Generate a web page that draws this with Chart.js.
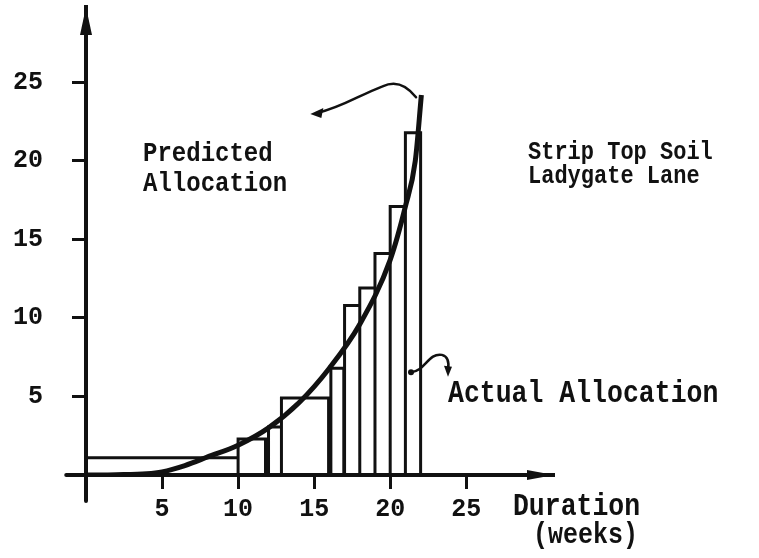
<!DOCTYPE html>
<html>
<head>
<meta charset="utf-8">
<title>Strip Top Soil - Ladygate Lane</title>
<script src="https://cdn.jsdelivr.net/npm/chart.js@4.4.0/dist/chart.umd.min.js"></script>
<style>
    html, body { margin: 0; padding: 0; background: #fff; }
    #wrap { width: 759px; height: 558px; }
</style>
</head>
<body>
<div id="wrap"><canvas id="allocChart" width="759" height="558"></canvas></div>
<script>
// Actual allocation: one bar per period (weeks), heights
var barStart = [0, 10, 12, 12.85, 16.1, 17, 18, 19, 20, 21];
var barEnd = [10, 11.8, 12.85, 15.95, 16.95, 18, 19, 20, 21, 22];
var barHeight = [1.1, 2.3, 3.05, 4.9, 6.8, 10.8, 11.9, 14.1, 17.1, 21.8];

// Predicted allocation curve
var curveWeeks = [0, 2, 4, 5, 6.5, 8, 10, 12, 14, 16, 18, 20, 21, 21.65, 22.05];
var curveValues = [0, 0.02, 0.08, 0.2, 0.6, 1.15, 1.9, 3.0, 4.6, 6.8, 9.6, 13.7, 17.1, 20.0, 24.2];

// tick labels
var xTicks = [5, 10, 15, 20, 25];
var yTicks = [5, 10, 15, 20, 25];

var ink = "#111";
var mono = "'Liberation Mono', 'Courier New', monospace";

// outline of every bar, walked along the axis
var barOutline = [];
for (var i = 0; i < barHeight.length; i++) {
    barOutline.push({x: barStart[i], y: 0});
    barOutline.push({x: barStart[i], y: barHeight[i]});
    barOutline.push({x: barEnd[i], y: barHeight[i]});
    barOutline.push({x: barEnd[i], y: 0});
}

var curvePoints = curveWeeks.map(function (w, i) {
    return {x: w, y: curveValues[i]};
});

// text and hand-drawn arrows, placed in data units
var notes = [
    {text: "Predicted", x: 3.75, y: 20.0, size: 24},
    {text: "Allocation", x: 3.75, y: 18.1, size: 24},
    {text: "Strip Top Soil", x: 29.06, y: 20.15, size: 22},
    {text: "Ladygate Lane", x: 29.06, y: 18.57, size: 22},
    {text: "Actual Allocation", x: 23.8, y: 4.66, size: 26.5},
    {text: "Duration", x: 28.07, y: -2.54, size: 26.5},
    {text: "(weeks)", x: 29.39, y: -4.33, size: 25}
];

var decorations = {
    id: "decorations",
    afterDraw: function (chart) {
        var ctx = chart.ctx;
        var xs = chart.scales.x, ys = chart.scales.y;
        var area = chart.chartArea;
        function px(v) { return xs.getPixelForValue(v); }
        function py(v) { return ys.getPixelForValue(v); }

        ctx.save();
        ctx.strokeStyle = ink;
        ctx.fillStyle = ink;
        ctx.lineCap = "round";

        // axis stubs past the origin
        ctx.lineWidth = 4;
        ctx.beginPath();
        ctx.moveTo(px(0), py(0));
        ctx.lineTo(px(0), py(-1.65));
        ctx.moveTo(px(-1.3), py(0));
        ctx.lineTo(px(0), py(0));
        ctx.stroke();

        // arrow heads on the axes
        var ox = px(0), oy = py(0);
        ctx.beginPath();
        ctx.moveTo(ox, area.top);
        ctx.lineTo(ox - 6, area.top + 28);
        ctx.lineTo(ox + 6, area.top + 28);
        ctx.closePath();
        ctx.fill();
        ctx.beginPath();
        ctx.moveTo(area.right, oy);
        ctx.lineTo(area.right - 27, oy - 5);
        ctx.lineTo(area.right - 27, oy + 5);
        ctx.closePath();
        ctx.fill();

        // curly arrow from the curve to "Predicted Allocation"
        ctx.lineWidth = 2.5;
        ctx.beginPath();
        ctx.moveTo(px(21.7), py(24.05));
        ctx.quadraticCurveTo(px(20.7), py(25.3), px(19.5), py(24.75));
        ctx.bezierCurveTo(px(18.0), py(24.2), px(16.8), py(23.4), px(15.2), py(23.05));
        ctx.stroke();
        var tx = px(14.75), tyy = py(22.98);
        ctx.beginPath();
        ctx.moveTo(tx, tyy);
        ctx.lineTo(tx + 13, tyy - 6);
        ctx.lineTo(tx + 11, tyy + 4);
        ctx.closePath();
        ctx.fill();

        // curly arrow from the bars to "Actual Allocation"
        ctx.beginPath();
        ctx.arc(px(21.37), py(6.55), 3, 0, Math.PI * 2);
        ctx.fill();
        ctx.beginPath();
        ctx.moveTo(px(21.37), py(6.55));
        ctx.bezierCurveTo(px(22.3), py(6.6), px(22.5), py(7.8), px(23.4), py(7.65));
        ctx.quadraticCurveTo(px(23.95), py(7.5), px(23.8), py(6.7));
        ctx.stroke();
        var ax = px(23.8), ay = py(6.25);
        ctx.beginPath();
        ctx.moveTo(ax, ay);
        ctx.lineTo(ax - 4, ay - 11);
        ctx.lineTo(ax + 4, ay - 10);
        ctx.closePath();
        ctx.fill();

        // labels, stretched a little upward like the typewriter face
        ctx.textBaseline = "alphabetic";
        ctx.textAlign = "left";
        notes.forEach(function (n) {
            ctx.save();
            ctx.translate(px(n.x), py(n.y));
            ctx.scale(1, 1.18);
            ctx.font = "bold " + n.size + "px " + mono;
            ctx.fillText(n.text, 0, 0);
            ctx.restore();
        });
        ctx.restore();
    }
};

var tickFont = {family: mono, size: 25, weight: "bold"};

var ctx = document.getElementById("allocChart").getContext("2d");
var allocChart = new Chart(ctx, {
    type: "line",
    data: {
        datasets: [
            {
                label: "Actual Allocation",
                data: barOutline,
                borderColor: ink,
                borderWidth: 3,
                pointRadius: 0,
                tension: 0,
                fill: false
            },
            {
                label: "Predicted Allocation",
                data: curvePoints,
                borderColor: ink,
                borderWidth: 5,
                pointRadius: 0,
                cubicInterpolationMode: "monotone",
                fill: false
            }
        ]
    },
    options: {
        responsive: false,
        animation: false,
        layout: {padding: {top: 7, right: 205, left: 0, bottom: 0}},
        plugins: {
            legend: {display: false},
            tooltip: {enabled: false}
        },
        scales: {
            x: {
                type: "linear",
                min: 0,
                max: 30.77,
                afterBuildTicks: function (scale) {
                    scale.ticks = xTicks.map(function (v) { return {value: v}; });
                },
                afterFit: function (scale) {
                    scale.height = 83;
                    scale.paddingLeft = 0;
                    scale.paddingRight = 0;
                },
                border: {display: true, width: 4, color: ink},
                grid: {display: true, drawOnChartArea: false, drawTicks: true, tickLength: 14, tickWidth: 3, tickColor: ink},
                ticks: {color: ink, font: tickFont, padding: 6, maxRotation: 0, autoSkip: false}
            },
            y: {
                type: "linear",
                min: 0,
                max: 29.8,
                afterBuildTicks: function (scale) {
                    scale.ticks = yTicks.map(function (v) { return {value: v}; });
                },
                afterFit: function (scale) {
                    scale.width = 86;
                    scale.paddingTop = 0;
                    scale.paddingBottom = 0;
                },
                border: {display: true, width: 4, color: ink},
                grid: {display: true, drawOnChartArea: false, drawTicks: true, tickLength: 14, tickWidth: 3, tickColor: ink},
                ticks: {color: ink, font: tickFont, padding: 29, autoSkip: false}
            }
        }
    },
    plugins: [decorations]
});
</script>
</body>
</html>
